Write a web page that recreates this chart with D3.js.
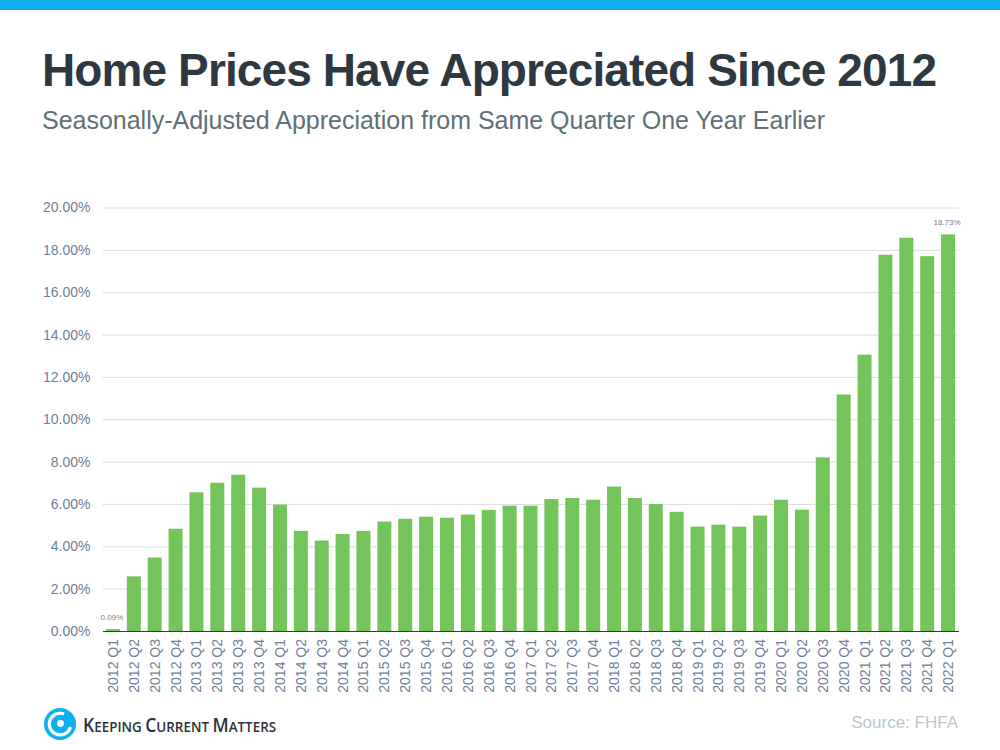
<!DOCTYPE html>
<html lang="en">
<head>
<meta charset="utf-8">
<title>Home Prices Have Appreciated Since 2012</title>
<style>
    html, body { margin: 0; padding: 0; background: #fff; }
    svg { display: block; font-family: "Liberation Sans", Arial, sans-serif; }
    .tick-label { fill: #6f8096; font-size: 14px; }
    .grid line { stroke: #dcdde0; stroke-width: 1; }
</style>
</head>
<body>
<svg id="chart" width="1000" height="750"></svg>
<script src="https://d3js.org/d3.v7.min.js"></script>
<script>
// quarters, one label per bar
var quarters = [
    "2012 Q1","2012 Q2","2012 Q3","2012 Q4",
    "2013 Q1","2013 Q2","2013 Q3","2013 Q4",
    "2014 Q1","2014 Q2","2014 Q3","2014 Q4",
    "2015 Q1","2015 Q2","2015 Q3","2015 Q4",
    "2016 Q1","2016 Q2","2016 Q3","2016 Q4",
    "2017 Q1","2017 Q2","2017 Q3","2017 Q4",
    "2018 Q1","2018 Q2","2018 Q3","2018 Q4",
    "2019 Q1","2019 Q2","2019 Q3","2019 Q4",
    "2020 Q1","2020 Q2","2020 Q3","2020 Q4",
    "2021 Q1","2021 Q2","2021 Q3","2021 Q4",
    "2022 Q1"
];
// appreciation in percent
var appreciation = [
    0.09, 2.58, 3.47, 4.83,
    6.55, 7.00, 7.38, 6.77,
    5.97, 4.73, 4.27, 4.58,
    4.73, 5.17, 5.30, 5.40,
    5.35, 5.50, 5.72, 5.92,
    5.92, 6.23, 6.28, 6.20,
    6.82, 6.28, 6.00, 5.63,
    4.93, 5.02, 4.93, 5.45,
    6.20, 5.73, 8.20, 11.17,
    13.05, 17.77, 18.57, 17.70,
    18.73
];
var yTicks = [0, 2, 4, 6, 8, 10, 12, 14, 16, 18, 20];
var labelled = ["2012 Q1", "2022 Q1"];

var svg = d3.select("#chart");
var plot = {left: 102.5, right: 958.5, top: 207.5, bottom: 631};

// top band
svg.append("rect").attr("width", 1000).attr("height", 10).attr("fill", "#0fb0f0");

// headings
svg.append("text")
    .attr("x", 42).attr("y", 86)
    .attr("fill", "#2e3841")
    .attr("font-size", 46).attr("font-weight", 700)
    .attr("textLength", 895).attr("lengthAdjust", "spacing")
    .text("Home Prices Have Appreciated Since 2012");
svg.append("text")
    .attr("x", 42).attr("y", 129)
    .attr("fill", "#5d7078")
    .attr("font-size", 25)
    .attr("textLength", 783).attr("lengthAdjust", "spacing")
    .text("Seasonally-Adjusted Appreciation from Same Quarter One Year Earlier");

// scales
var x = d3.scaleBand()
    .domain(quarters)
    .range([plot.left, plot.right])
    .paddingInner(0.33)
    .paddingOuter(0.165);
var y = d3.scaleLinear().domain([0, 20]).range([plot.bottom, plot.top]);

// gridlines and y labels
var yAxis = svg.append("g")
    .attr("class", "grid")
    .attr("transform", "translate(" + plot.left + ",0)")
    .call(d3.axisLeft(y).tickValues(yTicks).tickSize(-(plot.right - plot.left)).tickPadding(12)
        .tickFormat(function(d) { return d.toFixed(2) + "%"; }));
yAxis.select(".domain").remove();
yAxis.selectAll("text").attr("class", "tick-label").attr("font-family", null).attr("font-size", null);

// bars
svg.selectAll(".bar")
    .data(appreciation)
    .enter()
    .append("rect")
    .attr("class", "bar")
    .attr("x", function(d, i) { return x(quarters[i]); })
    .attr("y", function(d) { return y(d); })
    .attr("width", x.bandwidth())
    .attr("height", function(d) { return y(0) - y(d); })
    .attr("fill", "#73c45a");

// x axis with rotated labels
var xAxis = svg.append("g")
    .attr("transform", "translate(0," + plot.bottom + ")")
    .call(d3.axisBottom(x).tickSize(0));
xAxis.select(".domain").attr("stroke", "#33393d").attr("stroke-width", 1.2);
xAxis.selectAll("text")
    .attr("class", "tick-label")
    .attr("font-family", null).attr("font-size", null)
    .attr("text-anchor", "end")
    .attr("dy", null)
    .attr("y", null)
    .attr("transform", "translate(0,8) rotate(-90)")
    .attr("dominant-baseline", "central");

// value labels on first and last bar
svg.selectAll(".value")
    .data(labelled)
    .enter()
    .append("text")
    .attr("class", "value")
    .attr("x", function(d) { return x(d) + x.bandwidth() / 2 - 1; })
    .attr("y", function(d) { return y(appreciation[quarters.indexOf(d)]) - 9; })
    .attr("text-anchor", "middle")
    .attr("fill", "#74808e")
    .attr("font-size", 8)
    .text(function(d) { return appreciation[quarters.indexOf(d)].toFixed(2) + "%"; });

// source
svg.append("text")
    .attr("x", 958).attr("y", 728)
    .attr("text-anchor", "end")
    .attr("fill", "#bac7cf")
    .attr("font-size", 17)
    .text("Source: FHFA");

// logo
var logo = svg.append("g").attr("transform", "translate(60,724)");
logo.append("circle").attr("r", 16).attr("fill", "#0fb0f0");
logo.append("path")
    .attr("d", "M4,-10 A10.8,10.8 0 1 0 10.5,3")
    .attr("fill", "none").attr("stroke", "#fff").attr("stroke-width", 3.2);
logo.append("circle").attr("cx", 0.5).attr("cy", -0.5).attr("r", 3.4).attr("fill", "#fff");

// brand name in small caps, squeezed sideways like the wordmark
var brand = svg.append("text")
    .attr("transform", "translate(83,732) scale(0.925,1)")
    .attr("fill", "#2b3238")
    .attr("font-family", "'Open Sans', sans-serif")
    .attr("font-weight", 600)
    .attr("font-size", 14.5);
[["K", 19], ["EEPING ", 14.5], ["C", 19], ["URRENT ", 14.5], ["M", 19], ["ATTERS", 14.5]].forEach(function(p) {
    brand.append("tspan").attr("font-size", p[1]).text(p[0]);
});
</script>
</body>
</html>
